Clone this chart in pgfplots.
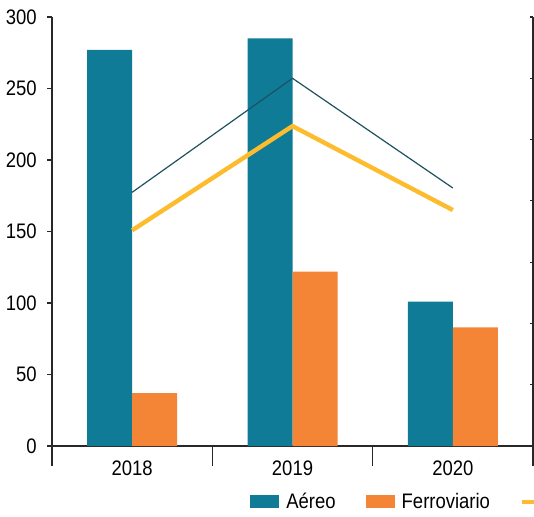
\documentclass[border=0pt]{standalone}
\usepackage{pgfplots}
\pgfplotsset{compat=1.18}
\usepackage{fontspec}
\setmainfont{Liberation Sans}[FakeStretch=0.88]

\definecolor{aereo}{RGB}{15,123,151}
\definecolor{ferro}{RGB}{244,133,55}
\definecolor{linea}{RGB}{252,188,45}
\definecolor{oscura}{RGB}{30,82,96}
\definecolor{eje}{RGB}{40,40,40}

\begin{document}
\begin{tikzpicture}
\begin{axis}[
    name=main,
    scale only axis,
    width=240.5pt, height=214.5pt,
    ybar=0pt, bar width=22.5pt,
    xmin=-0.5, xmax=2.5,
    ymin=0, ymax=300,
    xtick={0,1,2},
    xticklabels={2018,2019,2020},
    extra x ticks={-0.5,0.5,1.5,2.5},
    extra x tick labels={},
    extra x tick style={major tick length=10pt, xtick style={draw=eje, line width=0.6pt}},
    ytick={0,50,...,300},
    axis lines=left,
    axis line style={-, eje, line width=0.6pt},
    tick style={eje, line width=0.6pt},
    tick align=outside,
    xtick style={draw=none},
    major tick length=2.5pt,
    font=\fontsize{10.5}{12}\selectfont,
    /pgf/number format/assume math mode=true,
    yticklabel style={inner sep=0pt, xshift=-5pt},
    xticklabel style={inner sep=0pt, yshift=-4.5pt},
    legend columns=3,
    legend style={at={(0.4116,-0.1305)}, anchor=west, draw=none, fill=none,
        inner sep=0pt, font=\fontsize{10.5}{12}\selectfont,
        /tikz/every even column/.append style={column sep=13pt}},
    legend cell align=left,
]
\addplot[fill=aereo, draw=none,
    legend image code/.code={\fill[aereo] (0pt,-3.25pt) rectangle (14.5pt,3.25pt);}]
    coordinates {(0,277) (1,285) (2,101)};
\addlegendentry{\hspace*{1.5pt}Aéreo}
\addplot[fill=ferro, draw=none,
    legend image code/.code={\fill[ferro] (0pt,-3.25pt) rectangle (14.5pt,3.25pt);}]
    coordinates {(0,37) (1,122) (2,83)};
\addlegendentry{\hspace*{1.5pt}Ferroviario}
\addlegendimage{legend image code/.code={\draw[linea, line width=2pt] (0pt,0pt) -- (14.5pt,0pt);}}
\addlegendentry{}
\coordinate (sw) at (rel axis cs:0,0);
\coordinate (ne) at (rel axis cs:1,1);
\end{axis}

\begin{axis}[
    scale only axis,
    width=240.5pt, height=214.5pt,
    xmin=-0.5, xmax=2.5,
    ymin=0, ymax=7,
    axis x line=none,
    axis y line=right,
    axis line style={-, eje, line width=0.6pt},
    ytick={0,1,...,7},
    yticklabels={},
    tick align=inside,
    major tick length=1.5pt,
    tick style={eje, line width=0.6pt},
]
\addplot[oscura, line width=0.6pt] coordinates {(0,4.14) (1,6.00) (2,4.21)};
\addplot[linea, line width=2.2pt] coordinates {(0,3.52) (1,5.22) (2,3.85)};
\end{axis}

\pgfresetboundingbox
\path ([shift={(-26pt,-35pt)}]sw) rectangle ([shift={(0.5pt,8.5pt)}]ne);
\end{tikzpicture}
\end{document}
